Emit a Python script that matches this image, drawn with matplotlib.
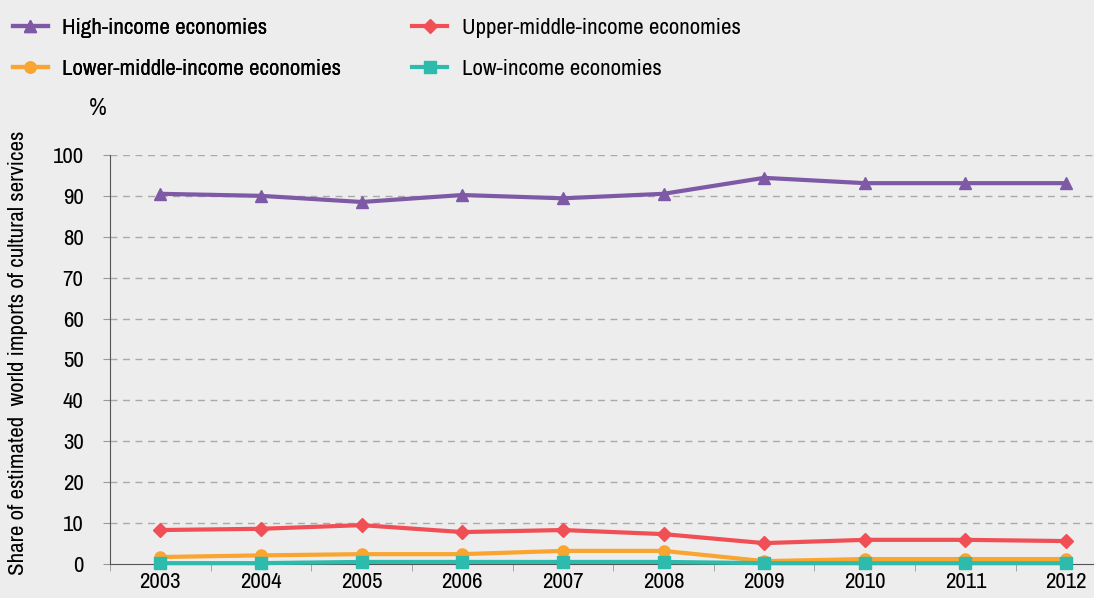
import matplotlib
matplotlib.use("Agg")
import matplotlib.pyplot as plt
from matplotlib import font_manager
import numpy as np

# data
years = ["2003", "2004", "2005", "2006", "2007", "2008", "2009", "2010", "2011", "2012"]
high_income = [90.5, 90.0, 88.5, 90.2, 89.4, 90.5, 94.4, 93.1, 93.1, 93.1]
upper_middle = [8.3, 8.6, 9.5, 7.8, 8.3, 7.3, 5.1, 5.9, 5.9, 5.6]
lower_middle = [1.7, 2.1, 2.4, 2.4, 3.2, 3.2, 0.7, 1.2, 1.2, 1.2]
low_income = [0.2, 0.2, 0.5, 0.5, 0.5, 0.5, 0.2, 0.2, 0.2, 0.2]

# look for a condensed face, the original uses a narrow sans
fonts = font_manager.fontManager.ttflist
narrow = [f for f in fonts if "Narrow" in f.name or "Condensed" in f.name]
cond = [f for f in fonts if f.stretch in ("condensed", "semi-condensed")]
stretch = "normal"
if narrow:
    family = narrow[0].name
elif cond:
    family = cond[0].name
    stretch = cond[0].stretch
else:
    family = "Liberation Sans"
plt.rcParams["font.family"] = [family, "DejaVu Sans"]
plt.rcParams["font.stretch"] = stretch
scale = 1.0 if (narrow or cond) else 0.85
fs = 16.5 * scale

bg = "#EDEDED"
fig = plt.figure(figsize=(10.94, 5.98), dpi=100, facecolor=bg)
ax = fig.add_axes([0.1005, 0.0569, 0.92, 0.684], facecolor=bg)

x = np.arange(len(years))
series = [
    ("High-income economies", high_income, "#7E5AA6", "^", 8),
    ("Upper-middle-income economies", upper_middle, "#F04F55", "D", 7),
    ("Lower-middle-income economies", lower_middle, "#F9A530", "o", 8),
    ("Low-income economies", low_income, "#2DBBAE", "s", 8),
]
handles = []
for label, vals, color, marker, ms in series:
    h, = ax.plot(x, vals, color=color, marker=marker, markersize=ms, lw=3,
                 label=label, clip_on=False, zorder=3)
    handles.append(h)

ax.set_ylim(0, 100)
ax.set_xlim(-0.48, 9.3)
ax.set_yticks(range(0, 101, 10))
ax.set_xticks(x)
ax.set_xticklabels(years)
ax.set_xticks(np.arange(-0.5, 9.6, 1), minor=True)
ax.tick_params(axis="x", which="major", length=0, labelsize=fs, pad=6)
ax.tick_params(axis="x", which="minor", length=5, color="#999999")
ax.tick_params(axis="y", length=5, color="#999999", labelsize=fs, pad=14)

for v in range(10, 101, 10):
    ax.axhline(v, color="#AAAAAA", lw=1, ls=(0, (5, 4)), zorder=1)

for s in ["top", "right"]:
    ax.spines[s].set_visible(False)
ax.spines["left"].set_color("#555555")
ax.spines["bottom"].set_color("#555555")

fig.text(0.016, 0.41, "Share of estimated  world imports of cultural services",
         rotation=90, ha="center", va="center", fontsize=16.5 * scale)
fig.text(0.0895, 0.818, "%", ha="center", va="center", fontsize=fs + 1)

leg_kw = dict(frameon=False, fontsize=fs, handlelength=1.5, labelspacing=0.9,
              handletextpad=0.65, borderpad=0, borderaxespad=0)
leg1 = fig.legend(handles=[handles[0], handles[2]], loc="upper left",
                  bbox_to_anchor=(0.012, 0.97), **leg_kw)
fig.add_artist(leg1)
fig.legend(handles=[handles[1], handles[3]], loc="upper left",
           bbox_to_anchor=(0.377, 0.97), **leg_kw)

fig.savefig("out.png", dpi=100, facecolor=bg)
